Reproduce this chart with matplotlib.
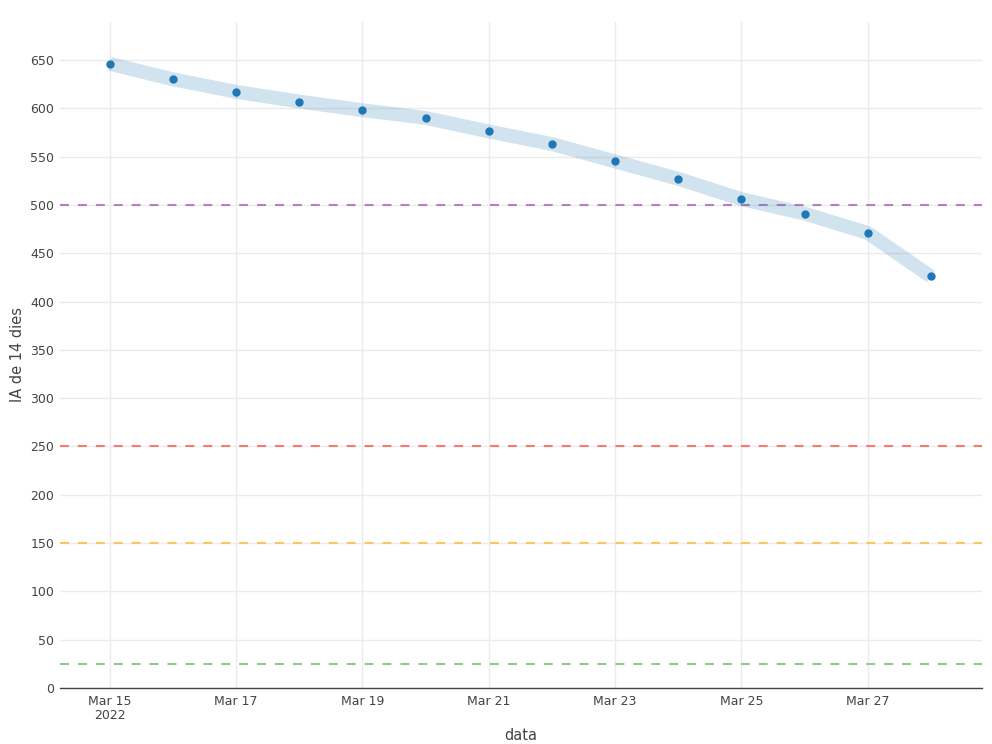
import matplotlib
matplotlib.use("Agg")
import matplotlib.pyplot as plt
import matplotlib.dates as mdates
import numpy as np
import datetime as dt

dates = [dt.date(2022, 3, d) for d in range(15, 29)]
ia14 = [646, 630, 617, 607, 598, 590, 576, 563, 545, 527, 506, 491, 471, 426]
thresholds = [500, 250, 150, 25]
threshold_colors = ["#b77fc0", "#f47b72", "#fdc55e", "#8ccb8c"]
tick_dates = [dt.date(2022, 3, d) for d in range(15, 29, 2)]
tick_labels = ["Mar 15\n2022", "Mar 17", "Mar 19", "Mar 21", "Mar 23", "Mar 25", "Mar 27"]

plt.rcParams['font.family'] = ['DejaVu Sans']
fig = plt.figure(figsize=(9.92, 7.44), dpi=100)
ax = fig.add_axes([60/992, 1-688/744, (982-60)/992, (688-22)/744])

x = mdates.date2num(dates)
ax.plot(x, ia14, color="#1f77b4", alpha=0.2, linewidth=10, solid_capstyle="butt", solid_joinstyle="round", zorder=2)
ax.plot(x, ia14, linestyle="none", marker="o", markersize=5, color="#1f77b4", zorder=3)

for t, c in zip(thresholds, threshold_colors):
    ax.axhline(t, color=c, linewidth=1.5, linestyle=(0, (4.3, 4.3)), zorder=1.5)

ax.set_xlim(x[0] - 0.79, x[-1] + 0.81)
ax.set_ylim(0, 689.3)
ax.set_yticks(np.arange(0, 651, 50))
ax.set_xticks(mdates.date2num(tick_dates))
ax.set_xticklabels(tick_labels, linespacing=1.15)

ax.grid(True, color="#ebebeb", linewidth=1)
ax.set_axisbelow(True)
for s in ["left", "right", "top"]:
    ax.spines[s].set_visible(False)
ax.spines["bottom"].set_color("#444444")
ax.spines["bottom"].set_linewidth(1)
ax.tick_params(axis="both", colors="#444444", labelsize=9, length=0)
ax.tick_params(axis="x", pad=5)
ax.tick_params(axis="y", pad=4)
fig.text(18/992, 1-355/744, "IA de 14 dies", color="#444444", fontsize=10.5,
         rotation=90, ha="center", va="center")
fig.text(521/992, 1-735/744, "data", color="#444444", fontsize=10.5,
         ha="center", va="center")

fig.savefig("out.png", dpi=100)
